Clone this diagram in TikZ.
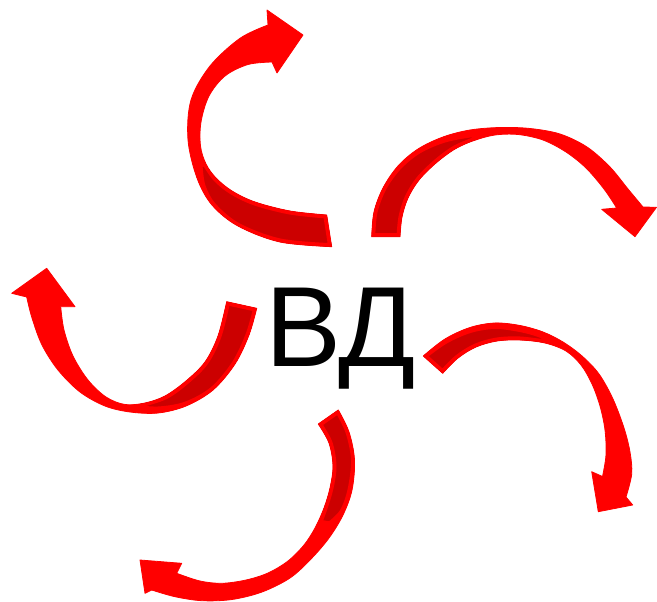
\documentclass[tikz,border=0pt]{standalone}
\usepackage{fontspec}
\setmainfont{Liberation Sans}
\definecolor{arrred}{RGB}{255,0,0}
\definecolor{arrdark}{RGB}{204,0,0}
\begin{document}
\begin{tikzpicture}[x=1pt,y=-1pt,
  body/.style={fill=arrred,draw=arrred,line width=0.8pt,line join=round},
  back/.style={fill=arrdark,draw=arrred,line width=7pt,line join=round},
  lbl/.style={font=\fontsize{114}{114}\selectfont,anchor=base west,inner sep=0pt,text=black}]
\useasboundingbox (0,0) rectangle (657,602);
% arrow A (top left)
\def\shpA{plot[smooth,tension=0.55] coordinates {(331.7,246.7) (280,242) (238,226) (212,205) (197,178) (188,140) (191,100) (210,66) (240,38.3) (268,25)} -- (267,10) -- (303,35) -- (277,73) -- plot[smooth,tension=0.55] coordinates {(272,62) (248,64.5) (225,76) (209,96) (201,122) (200.5,146) (206,164) (216,178) (232,191) (255,202) (290,211) (326.7,215)} -- cycle}
\def\bkA{plot[smooth,tension=0.55] coordinates {(331.7,246.7) (280,242) (238,226.5) (213,206) (202,186) (199,165)} -- plot[smooth,tension=0.55] coordinates {(205,162) (216,178) (232,191) (255,202) (290,211) (326.7,215)} -- cycle}
% arrow B (top right)
\def\shpB{plot[smooth,tension=0.55] coordinates {(371.7,236.7) (374,212) (383,188) (398,166) (418,149) (443,137) (470,130) (500,127.5) (530,128.5) (560,134) (587,147) (610,167) (628,189) (643,207)} -- (656.5,207.3) -- (635,236.7) -- (601.7,209.3) -- plot[smooth,tension=0.55] coordinates {(616.7,208) (604,189) (586,168) (566,152) (543,140) (518,134.5) (495,135) (474,140.5) (455,149) (436,163) (419,180) (408,198) (402,217) (400,236.7)} -- cycle}
\def\bkB{plot[smooth,tension=0.55] coordinates {(371.7,236.7) (374,212) (383,188) (398,167) (418,150.5) (443,139.5) (470,134) (486,133.5)} -- plot[smooth,tension=0.55] coordinates {(476,140) (455,149) (436,163) (419,180) (408,198) (402,217) (400,236.7)} -- cycle}
% arrow C (left)
\def\shpC{plot[smooth,tension=0.55] coordinates {(256.7,308.3) (249,335) (235,364) (213,390) (186,406) (158,413) (130,412) (105,406) (80,392) (58,370) (42,345) (32,318) (26.7,297)} -- (11.7,293.3) -- (46.7,268.3) -- (75,306.7) -- plot[smooth,tension=0.55] coordinates {(60.7,306.7) (64,330) (73,356) (88,380) (106,397) (125,404.5) (145,403) (165,396) (186,381) (205,362) (218,336) (226.7,301.7)} -- cycle}
\def\bkC{plot[smooth,tension=0.55] coordinates {(256.7,308.3) (249,335) (235,364) (213,390) (186,405) (158,410) (132,408)} -- plot[smooth,tension=0.55] coordinates {(140,404) (165,396) (186,381) (205,362) (218,336) (226.7,301.7)} -- cycle}
% arrow D (right)
\def\shpD{plot[smooth,tension=0.55] coordinates {(423.3,356) (445,339) (470,327.5) (495,323) (520,325.5) (543,332) (563,342) (582,356) (599,374) (613,399) (624,428) (630,452) (631.7,474) (626,497)} -- (632.7,505) -- (598.3,511.7) -- (591.7,471.7) -- plot[smooth,tension=0.55] coordinates {(602.5,476.5) (606,455) (605,430) (600,406) (592,384) (581,365) (566,351) (545,343) (520,340) (497,341) (476,347) (458,358) (442.7,373.3)} -- cycle}
\def\bkD{plot[smooth,tension=0.55] coordinates {(423.3,356) (445,340.5) (470,329.5) (495,325.5) (520,328.5) (540,334) (556,342.5)} -- plot[smooth,tension=0.55] coordinates {(545,343) (520,340) (497,341) (476,347) (458,358) (442.7,373.3)} -- cycle}
% arrow E (bottom)
\def\shpE{plot[smooth,tension=0.55] coordinates {(338.3,410) (349,432) (354.5,460) (352,490) (343,515) (329,538) (311,559) (290,578) (262,592) (232,599.5) (202,600.7) (175,596.7) (151.7,590)} -- (145,593.3) -- (140,560) -- (181.7,563.3) -- plot[smooth,tension=0.55] coordinates {(176.7,573.3) (200,581) (222,583.3) (246,580) (268,573) (288,561) (304,545) (315,528) (324,508) (330,488) (333,466) (329,443) (318.3,424)} -- cycle}
\def\bkE{plot[smooth,tension=0.55] coordinates {(338.3,410) (349,432) (354.5,460) (351,490) (343,512) (330,525)} -- plot[smooth,tension=0.55] coordinates {(318.5,523) (324,508) (330,488) (333,466) (329,443) (318.3,424)} -- cycle}
\foreach \s/\b in {\shpA/\bkA,\shpB/\bkB,\shpC/\bkC,\shpD/\bkD,\shpE/\bkE}{
  \path[body] \s;
  \begin{scope}
    \clip \s;
    \path[back] \b;
  \end{scope}
}
\node[lbl] (vd) at (265,366.7) {ВД};
\end{tikzpicture}
\end{document}
